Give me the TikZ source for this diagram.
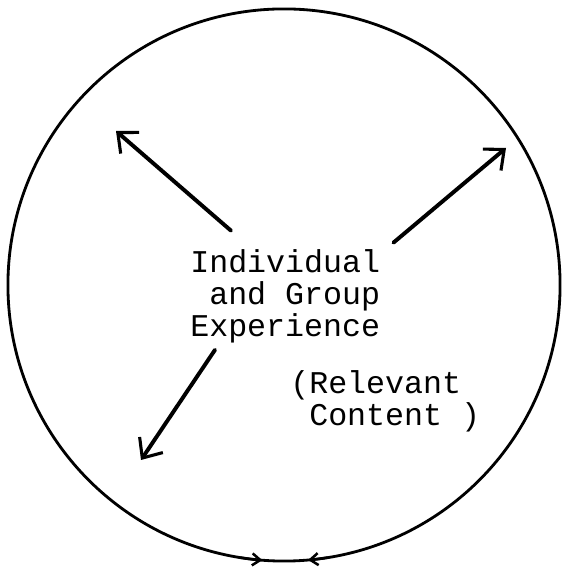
\documentclass[tikz,border=0pt]{standalone}
\usepackage{fontspec}
\newfontfamily\typewriter{Liberation Mono}
\usetikzlibrary{arrows.meta}
\begin{document}
\begin{tikzpicture}[x=0.025cm,y=0.025cm]
    % Define style for text and arrows
    \tikzstyle{typed} = [inner sep=0pt, anchor=base west, align=left, font=\typewriter\fontsize{22.5}{22.8}\selectfont]
    \tikzstyle{pointer} = [line width=2.8pt, line cap=round, -{Straight Barb[length=4mm, width=7mm, line width=2.2pt]}]
    \tikzstyle{flow} = [line width=1.8pt, -{Straight Barb[length=2mm, width=3mm]}]
    \useasboundingbox (0,0) rectangle (561,569);

    % Draw the circle
    \draw[line width=2pt] (284,284) circle [radius=6.9cm];
    \draw[flow] (284,284) ++(261:6.9cm) arc [start angle=261, end angle=265.5, radius=6.9cm];
    \draw[flow] (284,284) ++(279:6.9cm) arc [start angle=279, end angle=275, radius=6.9cm];

    % Draw the texts
    \node(exp)[typed] at (190,232) {Individual\\~and Group\\Experience};
    \node(content)[typed] at (290,143) {(Relevant\\~Content )};

    % Draw the arrows
    \coordinate (nw) at (116,438);
    \coordinate (ne) at (506,421);
    \coordinate (sw) at (141,109);
    \draw[pointer] (exp.north west) ++(41,19) -- (nw);
    \draw[pointer] (exp.north east) ++(13,7) -- (ne);
    \draw[pointer] (exp.south west) ++(25,-6) -- (sw);
  \end{tikzpicture}
\end{document}
